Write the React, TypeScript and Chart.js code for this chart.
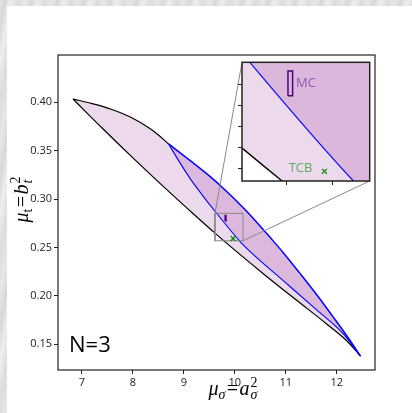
import React, { useEffect, useRef } from 'react';
import Chart from 'chart.js/auto';

// ---- data ----
const upperBlackX = [6.824, 7.2, 7.574, 7.95, 8.325, 8.512, 8.7];
const upperBlackY = [0.4034, 0.3987, 0.3929, 0.3848, 0.3732, 0.3658, 0.357];
const upperBlueX = [8.7, 9.15, 9.5, 9.84, 10.16, 10.45, 10.7, 10.95, 11.27, 11.6, 11.92, 12.25, 12.466];
const upperBlueY = [0.357, 0.3388, 0.324, 0.3079, 0.2913, 0.2749, 0.26, 0.2447, 0.2238, 0.2017, 0.1789, 0.1548, 0.1379];
const innerBlueX = [8.7, 8.9, 9.12, 9.35, 9.61, 10.09, 10.29, 10.95, 11.6, 12.12, 12.466];
const innerBlueY = [0.357, 0.3395, 0.3215, 0.305, 0.2875, 0.257, 0.2462, 0.2158, 0.1858, 0.1614, 0.1379];
const lowerBlackX = [6.824, 7.4, 8.0, 8.6, 9.2, 9.609, 10.0, 10.6, 11.2, 11.8, 12.2, 12.466];
const lowerBlackY = [0.4034, 0.3732, 0.3426, 0.3129, 0.2841, 0.2649, 0.2473, 0.2212, 0.196, 0.1711, 0.1535, 0.1379];

const mcX = [9.808, 9.828];
const mcY = [0.2773, 0.2832];
const tcbX = [9.965];
const tcbY = [0.2593];

const xRange = [6.53, 12.75];
const yRange = [0.1235, 0.4489];
const zoomX = [9.61, 10.16];
const zoomY = [0.257, 0.2853];

const xTicks = [7, 8, 9, 10, 11, 12];
const yTicks = [0.15, 0.2, 0.25, 0.3, 0.35, 0.4];
const insetXTicks = [9.8, 10.0];
const insetYTicks = [0.26, 0.265, 0.27, 0.275, 0.28];

const labelN = 'N=3';
const labelMC = 'MC';
const labelTCB = 'TCB';

// ---- layout constants ----
const MAIN_W = 405;
const MAIN_H = 407;
const INSET_LEFT = 229;
const INSET_TOP = 51;
const INSET_W = 139;
const INSET_H = 131;

const pts = (xs: number[], ys: number[]) => xs.map((x, i) => ({ x, y: ys[i] }));

const FILL = 'rgba(128,0,128,0.15)';
const BLUE = '#0000ff';
const INDIGO = '#4b0082';
const GREEN = '#118811';
const NONE = 'rgba(0,0,0,0)';

function buildDatasets(isMain: boolean) {
  const outerUpper = [...pts(upperBlackX, upperBlackY), ...pts(upperBlueX, upperBlueY).slice(1)];
  const clip = isMain ? undefined : 0;
  const curve = { pointRadius: 0, cubicInterpolationMode: 'monotone', clip } as any;
  const ds: any[] = [
    { ...curve, data: outerUpper, fill: 1, backgroundColor: FILL, borderColor: NONE, borderWidth: 1, order: 10 },
    { ...curve, data: pts(lowerBlackX, lowerBlackY), fill: false, borderColor: NONE, borderWidth: 1, order: 10 },
    { ...curve, data: pts(upperBlueX, upperBlueY), fill: 3, backgroundColor: FILL, borderColor: NONE, borderWidth: 1, order: 9 },
    { ...curve, data: pts(innerBlueX, innerBlueY), fill: false, borderColor: NONE, borderWidth: 1, order: 9 },
    { ...curve, data: pts(lowerBlackX, lowerBlackY), borderColor: '#000', borderWidth: isMain ? 1.2 : 1.3, order: 5 },
    { ...curve, data: pts(upperBlackX, upperBlackY), borderColor: '#000', borderWidth: 1.2, order: 5 },
    { ...curve, data: pts(innerBlueX, innerBlueY), borderColor: BLUE, borderWidth: 1.1, order: 4 },
    { ...curve, data: pts(upperBlueX, upperBlueY), borderColor: BLUE, borderWidth: 1.5, order: 4 },
  ];
  const straight = { pointRadius: 0, tension: 0, clip, fill: false } as any;
  if (isMain) {
    ds.push({
      ...straight,
      data: [
        { x: zoomX[0], y: zoomY[0] },
        { x: zoomX[1], y: zoomY[0] },
        { x: zoomX[1], y: zoomY[1] },
        { x: zoomX[0], y: zoomY[1] },
        { x: zoomX[0], y: zoomY[0] },
      ],
      borderColor: '#888',
      borderWidth: 1,
      order: 3,
    });
  }
  ds.push({
    ...straight,
    data: [
      { x: mcX[0], y: mcY[0] },
      { x: mcX[1], y: mcY[0] },
      { x: mcX[1], y: mcY[1] },
      { x: mcX[0], y: mcY[1] },
      { x: mcX[0], y: mcY[0] },
    ],
    borderColor: INDIGO,
    borderWidth: isMain ? 1.3 : 1.5,
    order: 2,
  });
  ds.push({
    data: pts(tcbX, tcbY),
    showLine: false,
    fill: false,
    pointStyle: 'crossRot',
    pointRadius: 3.5,
    pointBorderWidth: 1.3,
    pointBorderColor: GREEN,
    pointBackgroundColor: GREEN,
    borderColor: GREEN,
    clip,
    order: 1,
  });
  return ds;
}

type Run = { t: string; it?: boolean; s: number; dy?: number; adv?: boolean; gap?: number };

function drawMath(ctx: CanvasRenderingContext2D, runs: Run[], cx: number, by: number) {
  const font = (r: Run) => `${r.it ? 'italic ' : ''}${r.s}px "Liberation Serif", "DejaVu Serif", serif`;
  const widths = runs.map((r) => {
    ctx.font = font(r);
    return ctx.measureText(r.t).width;
  });
  let total = 0;
  let pending = 0;
  runs.forEach((r, i) => {
    total += r.gap || 0;
    if (r.adv === false) {
      pending = Math.max(pending, widths[i]);
    } else {
      total += Math.max(pending, widths[i]);
      pending = 0;
    }
  });
  let x = cx - total / 2;
  pending = 0;
  ctx.textAlign = 'left';
  ctx.textBaseline = 'alphabetic';
  runs.forEach((r, i) => {
    ctx.font = font(r);
    if (r.adv !== false || pending === 0) x += r.gap || 0;
    ctx.fillText(r.t, x, by + (r.dy || 0));
    if (r.adv === false) {
      pending = Math.max(pending, widths[i]);
    } else {
      x += Math.max(pending, widths[i]);
      pending = 0;
    }
  });
}

const xTitleRuns: Run[] = [
  { t: 'μ', it: true, s: 20 },
  { t: 'σ', it: true, s: 14, dy: 3.5 },
  { t: '=', s: 20, gap: 1.5 },
  { t: 'a', it: true, s: 20, gap: 1.5 },
  { t: '2', s: 14, dy: -8, adv: false, gap: 1 },
  { t: 'σ', it: true, s: 14, dy: 3.5 },
];
const yTitleRuns: Run[] = [
  { t: 'μ', it: true, s: 20 },
  { t: 't', s: 14, dy: 3.5 },
  { t: '=', s: 20, gap: 1.5 },
  { t: 'b', it: true, s: 20, gap: 1.5 },
  { t: '2', s: 14, dy: -8, adv: false, gap: 1 },
  { t: 't', it: true, s: 14, dy: 3.5 },
];

function scaleOpts(range: number[], ticks: number[], showLabels: boolean, fmt: (v: number) => string, fit: (s: any) => void) {
  return {
    type: 'linear',
    min: range[0],
    max: range[1],
    afterBuildTicks: (s: any) => {
      s.ticks = ticks.map((v) => ({ value: v }));
    },
    afterFit: fit,
    border: { display: false },
    grid: {
      display: true,
      drawOnChartArea: false,
      drawTicks: true,
      tickLength: 4,
      tickColor: '#222',
      tickWidth: 1,
    },
    ticks: {
      display: showLabels,
      padding: 2,
      maxRotation: 0,
      autoSkip: false,
      color: '#222',
      font: { family: '"Open Sans", "Noto Sans", sans-serif', size: 11 },
      callback: (v: any) => fmt(Number(v)),
    },
  };
}

export default function App() {
  const mainRef = useRef<HTMLCanvasElement>(null);
  const insetRef = useRef<HTMLCanvasElement>(null);

  useEffect(() => {
    const insetDecor = {
      id: 'insetDecor',
      beforeDraw(chart: any) {
        const { ctx, chartArea: a } = chart;
        ctx.save();
        ctx.fillStyle = '#fff';
        ctx.fillRect(a.left, a.top, a.right - a.left, a.bottom - a.top);
        ctx.restore();
      },
      afterDraw(chart: any) {
        const { ctx, chartArea: a, scales } = chart;
        const x = scales.x;
        const y = scales.y;
        ctx.save();
        ctx.strokeStyle = '#222';
        ctx.lineWidth = 1.5;
        ctx.strokeRect(a.left, a.top, a.right - a.left, a.bottom - a.top);
        ctx.font = '13px "Open Sans", "Noto Sans", sans-serif';
        ctx.textBaseline = 'middle';
        ctx.fillStyle = '#8c55b4';
        ctx.textAlign = 'left';
        ctx.fillText(labelMC, x.getPixelForValue(mcX[1]) + 3.5, y.getPixelForValue((mcY[0] + mcY[1]) / 2));
        ctx.fillStyle = '#5aac5a';
        ctx.textAlign = 'right';
        ctx.fillText(labelTCB, x.getPixelForValue(tcbX[0]) - 12, y.getPixelForValue(tcbY[0]) - 3.5);
        ctx.restore();
      },
    };

    const inset = new Chart(insetRef.current!, {
      type: 'line',
      data: { datasets: buildDatasets(false) },
      options: {
        animation: false,
        responsive: false,
        devicePixelRatio: 1,
        events: [],
        layout: { padding: { left: 0, top: 2, right: 4, bottom: 0 } },
        plugins: { legend: { display: false }, tooltip: { enabled: false }, filler: { propagate: false } },
        scales: {
          x: scaleOpts(zoomX, insetXTicks, false, (v) => String(v), (s: any) => { s.height = 7; }),
          y: scaleOpts(zoomY, insetYTicks, false, (v) => String(v), (s: any) => { s.width = 6; }),
        },
      } as any,
      plugins: [insetDecor],
    });

    const mainDecor = {
      id: 'mainDecor',
      afterDraw(chart: any) {
        const { ctx, chartArea: a, scales } = chart;
        const x = scales.x;
        const y = scales.y;
        ctx.save();
        ctx.strokeStyle = '#222';
        ctx.lineWidth = 1.2;
        ctx.strokeRect(a.left, a.top, a.right - a.left, a.bottom - a.top);
        const ia = inset.chartArea;
        if (ia) {
          ctx.strokeStyle = '#888';
          ctx.lineWidth = 1;
          ctx.beginPath();
          ctx.moveTo(x.getPixelForValue(zoomX[0]), y.getPixelForValue(zoomY[1]));
          ctx.lineTo(INSET_LEFT + ia.left, INSET_TOP + ia.top);
          ctx.moveTo(x.getPixelForValue(zoomX[1]), y.getPixelForValue(zoomY[0]));
          ctx.lineTo(INSET_LEFT + ia.right, INSET_TOP + ia.bottom);
          ctx.stroke();
        }
        ctx.fillStyle = '#000';
        ctx.font = '22px "Open Sans", "Noto Sans", sans-serif';
        ctx.textAlign = 'left';
        ctx.textBaseline = 'alphabetic';
        ctx.fillText(labelN, a.left + 11, a.bottom - 18);
        drawMath(ctx, xTitleRuns, (a.left + a.right) / 2 + 16.5, a.bottom + 25);
        ctx.translate(a.left - 30, (a.top + a.bottom) / 2 - 13);
        ctx.rotate(-Math.PI / 2);
        drawMath(ctx, yTitleRuns, 0, 0);
        ctx.restore();
      },
    };

    const main = new Chart(mainRef.current!, {
      type: 'line',
      data: { datasets: buildDatasets(true) },
      options: {
        animation: false,
        responsive: false,
        devicePixelRatio: 1,
        events: [],
        layout: { padding: { left: 0, top: 49, right: 37, bottom: 0 } },
        plugins: { legend: { display: false }, tooltip: { enabled: false }, filler: { propagate: false } },
        scales: {
          x: scaleOpts(xRange, xTicks, true, (v) => String(v), (s: any) => { s.height = 43; }),
          y: scaleOpts(yRange, yTicks, true, (v) => v.toFixed(2), (s: any) => { s.width = 51; }),
        },
      } as any,
      plugins: [mainDecor],
    });

    return () => {
      main.destroy();
      inset.destroy();
    };
  }, []);

  return (
    <div
      style={{
        position: 'fixed',
        inset: 0,
        background:
          'repeating-linear-gradient(100deg, #e4e4e4 0px, #d8d8d8 5px, #eeeeee 11px, #dcdcdc 18px, #e8e8e8 26px)',
      }}
    >
      <div style={{ position: 'absolute', left: 7, top: 6, width: MAIN_W, height: MAIN_H, background: '#fff' }}>
        <canvas ref={mainRef} width={MAIN_W} height={MAIN_H} style={{ position: 'absolute', left: 0, top: 0, display: 'block' }} />
        <canvas
          ref={insetRef}
          width={INSET_W}
          height={INSET_H}
          style={{ position: 'absolute', left: INSET_LEFT, top: INSET_TOP, display: 'block' }}
        />
      </div>
    </div>
  );
}
